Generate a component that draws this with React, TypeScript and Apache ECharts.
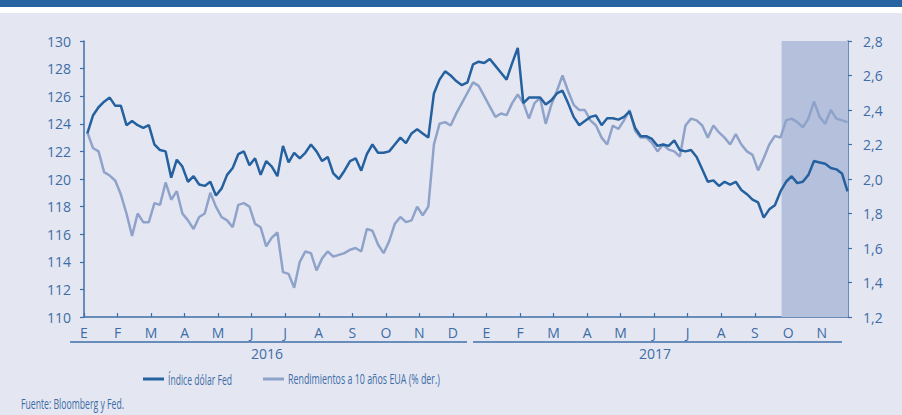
import { useEffect, useRef } from 'react';
import * as echarts from 'echarts';

// Month ticks (Jan 2016 .. Nov 2017), Spanish initials
const MONTH_LABELS = ['E', 'F', 'M', 'A', 'M', 'J', 'J', 'A', 'S', 'O', 'N', 'D',
  'E', 'F', 'M', 'A', 'M', 'J', 'J', 'A', 'S', 'O', 'N'];
const YEAR_LABELS = ['2016', '2017'];

// Samples: every 1/6 month starting 0.1 month after 1 Jan 2016
const SAMPLE_START = 0.1;
const SAMPLES_PER_MONTH = 6;
const AXIS_END = 22.78; // months since Jan 2016 (~24 Nov 2017)
const SHADE_FROM = 20.8; // ~25 Sep 2017

const DOLLAR_INDEX = [
  123.3, 124.6, 125.2, 125.6, 125.9, 125.3, 125.3, 123.9, 124.2, 123.9,
  123.7, 123.9, 122.5, 122.1, 122.0, 120.1, 121.4, 120.9, 119.8, 120.2,
  119.6, 119.5, 119.8, 118.8, 119.3, 120.3, 120.8, 121.8, 122.0, 121.0,
  121.5, 120.3, 121.3, 120.9, 120.2, 122.4, 121.2, 121.9, 121.5, 121.9,
  122.5, 122.0, 121.3, 121.6, 120.4, 120.0, 120.6, 121.3, 121.5, 120.6,
  121.8, 122.5, 121.9, 121.9, 122.0, 122.5, 123.0, 122.6, 123.3, 123.6,
  123.3, 123.0, 126.2, 127.2, 127.8, 127.5, 127.1, 126.8, 127.0, 128.3,
  128.5, 128.4, 128.7, 128.2, 127.7, 127.2, 128.4, 129.5, 125.5, 125.9,
  125.9, 125.9, 125.4, 125.7, 126.2, 126.4, 125.5, 124.5, 123.9, 124.2,
  124.5, 124.6, 123.9, 124.4, 124.4, 124.3, 124.5, 124.9, 123.7, 123.1,
  123.1, 122.9, 122.4, 122.5, 122.4, 122.8, 122.1, 122.0, 122.1, 121.6,
  120.7, 119.8, 119.9, 119.5, 119.8, 119.6, 119.8, 119.2, 118.9, 118.5,
  118.3, 117.2, 117.8, 118.1, 119.1, 119.8, 120.2, 119.7, 119.8, 120.3,
  121.3, 121.2, 121.1, 120.8, 120.7, 120.4, 119.1,
];

const TREASURY_10Y = [
  2.27, 2.18, 2.16, 2.04, 2.02, 1.99, 1.91, 1.80, 1.67, 1.80,
  1.75, 1.75, 1.86, 1.85, 1.98, 1.88, 1.93, 1.80, 1.76, 1.71,
  1.78, 1.80, 1.92, 1.84, 1.78, 1.76, 1.72, 1.85, 1.86, 1.84,
  1.74, 1.72, 1.61, 1.66, 1.69, 1.46, 1.45, 1.37, 1.52, 1.58,
  1.57, 1.47, 1.54, 1.58, 1.55, 1.56, 1.57, 1.59, 1.60, 1.58,
  1.71, 1.70, 1.62, 1.57, 1.64, 1.74, 1.78, 1.75, 1.76, 1.84,
  1.79, 1.84, 2.20, 2.32, 2.33, 2.31, 2.38, 2.44, 2.50, 2.56,
  2.54, 2.48, 2.42, 2.36, 2.38, 2.37, 2.44, 2.49, 2.44, 2.35,
  2.44, 2.47, 2.32, 2.43, 2.51, 2.60, 2.51, 2.43, 2.40, 2.40,
  2.34, 2.31, 2.24, 2.20, 2.31, 2.29, 2.34, 2.40, 2.28, 2.24,
  2.24, 2.21, 2.16, 2.20, 2.17, 2.16, 2.13, 2.31, 2.35, 2.34,
  2.31, 2.24, 2.31, 2.27, 2.24, 2.20, 2.26, 2.20, 2.16, 2.14,
  2.05, 2.12, 2.20, 2.25, 2.24, 2.34, 2.35, 2.33, 2.30, 2.35,
  2.45, 2.36, 2.32, 2.40, 2.35, 2.34, 2.33,
];

const SERIES_NAMES = ['Índice dólar Fed', 'Rendimientos a 10 años EUA (% der.)'];
const SOURCE_TEXT = 'Fuente: Bloomberg y Fed.';

const DARK = '#25609f';
const LIGHT = '#8fa3ca';
const AXIS = '#3f6fa8';
const TEXT = '#3d6ca6';
const BG = '#e4e7f2';
const SHADE = '#b4c0dc';
const FONT = '"Open Sans", "Noto Sans", sans-serif';
const SMALL_SIZE = 15;

function toPairs(values: number[]) {
  return values.map((v, i) => [SAMPLE_START + i / SAMPLES_PER_MONTH, v]);
}

function fitScale(text: string, target: number) {
  const c = document.createElement('canvas').getContext('2d');
  if (!c) return 0.6;
  c.font = `${SMALL_SIZE}px "Open Sans"`;
  const w = c.measureText(text).width;
  return w > 0 ? target / w : 0.6;
}

export default function App() {
  const ref = useRef<HTMLDivElement>(null);
  useEffect(() => {
    document.body.style.margin = '0';
    if (!ref.current) return;
    const chart = echarts.init(ref.current, undefined, { renderer: 'svg' });
    const s1 = fitScale(SERIES_NAMES[0], 64);
    const s2 = fitScale(SERIES_NAMES[1], 152);
    const s3 = fitScale(SOURCE_TEXT, 103);
    const smallStyle = { fontFamily: FONT, fontSize: SMALL_SIZE, fill: TEXT, verticalAlign: 'middle' };

    chart.setOption({
      animation: false,
      backgroundColor: BG,
      grid: { left: 84, right: 54, top: 41, bottom: 98, containLabel: false },
      xAxis: {
        type: 'value',
        min: 0,
        max: AXIS_END,
        interval: 1,
        axisLine: { show: true, lineStyle: { color: AXIS, width: 1.5 } },
        axisTick: { show: true, inside: true, length: 4, lineStyle: { color: AXIS, width: 1.2 } },
        axisLabel: {
          color: TEXT,
          fontFamily: FONT,
          fontSize: 14,
          margin: 8,
          showMaxLabel: false,
          formatter: (v: number) => (Number.isInteger(v) && MONTH_LABELS[v] ? MONTH_LABELS[v] : ''),
        },
        splitLine: { show: false },
      },
      yAxis: [
        {
          type: 'value',
          min: 110,
          max: 130,
          interval: 2,
          position: 'left',
          axisLine: { show: true, lineStyle: { color: AXIS, width: 1.5 } },
          axisTick: { show: true, length: 4, lineStyle: { color: AXIS, width: 1.2 } },
          axisLabel: { color: TEXT, fontFamily: FONT, fontSize: 14, margin: 13 },
          splitLine: { show: false },
        },
        {
          type: 'value',
          min: 1.2,
          max: 2.8,
          interval: 0.2,
          position: 'right',
          axisLine: { show: true, lineStyle: { color: AXIS, width: 1.5 } },
          axisTick: { show: true, length: 4, lineStyle: { color: AXIS, width: 1.2 } },
          axisLabel: {
            color: TEXT,
            fontFamily: FONT,
            fontSize: 14,
            margin: 15,
            formatter: (v: number) => v.toFixed(1).replace('.', ','),
          },
          splitLine: { show: false },
        },
      ],
      series: [
        {
          type: 'line',
          name: 'shade',
          data: [],
          silent: true,
          markArea: {
            silent: true,
            itemStyle: { color: SHADE },
            data: [[{ xAxis: SHADE_FROM }, { xAxis: AXIS_END }]],
          },
        },
        {
          type: 'line',
          name: SERIES_NAMES[1],
          yAxisIndex: 1,
          data: toPairs(TREASURY_10Y),
          showSymbol: false,
          lineStyle: { color: LIGHT, width: 2.5 },
          itemStyle: { color: LIGHT },
          z: 3,
        },
        {
          type: 'line',
          name: SERIES_NAMES[0],
          yAxisIndex: 0,
          data: toPairs(DOLLAR_INDEX),
          showSymbol: false,
          lineStyle: { color: DARK, width: 2.5 },
          itemStyle: { color: DARK },
          z: 4,
        },
      ],
      graphic: [
        { type: 'rect', shape: { x: 0, y: 0, width: 902, height: 7 }, style: { fill: '#2864a1' } },
        { type: 'rect', shape: { x: 0, y: 7, width: 902, height: 6 }, style: { fill: '#ffffff' } },
        // year brackets
        { type: 'line', shape: { x1: 70, y1: 342, x2: 467, y2: 342 }, style: { stroke: AXIS, lineWidth: 1.5 } },
        { type: 'line', shape: { x1: 473, y1: 342, x2: 842, y2: 342 }, style: { stroke: AXIS, lineWidth: 1.5 } },
        { type: 'text', x: 267, y: 353, style: { text: YEAR_LABELS[0], fontFamily: FONT, fontSize: 14, fill: TEXT, align: 'center', verticalAlign: 'middle' } },
        { type: 'text', x: 655, y: 353, style: { text: YEAR_LABELS[1], fontFamily: FONT, fontSize: 14, fill: TEXT, align: 'center', verticalAlign: 'middle' } },
        // legend
        { type: 'line', shape: { x1: 143, y1: 379, x2: 164, y2: 379 }, style: { stroke: DARK, lineWidth: 3 } },
        { type: 'text', x: 168, y: 379, scaleX: s1, style: { ...smallStyle, text: SERIES_NAMES[0] } },
        { type: 'line', shape: { x1: 263, y1: 379, x2: 284, y2: 379 }, style: { stroke: LIGHT, lineWidth: 3 } },
        { type: 'text', x: 288, y: 379, scaleX: s2, style: { ...smallStyle, text: SERIES_NAMES[1] } },
        // source
        { type: 'text', x: 21, y: 403, scaleX: s3, style: { ...smallStyle, text: SOURCE_TEXT } },
      ],
    });
    return () => chart.dispose();
  }, []);
  return (
    <div
      ref={ref}
      style={{ position: 'absolute', left: 0, top: 0, width: 902, height: 415, background: BG }}
    />
  );
}
